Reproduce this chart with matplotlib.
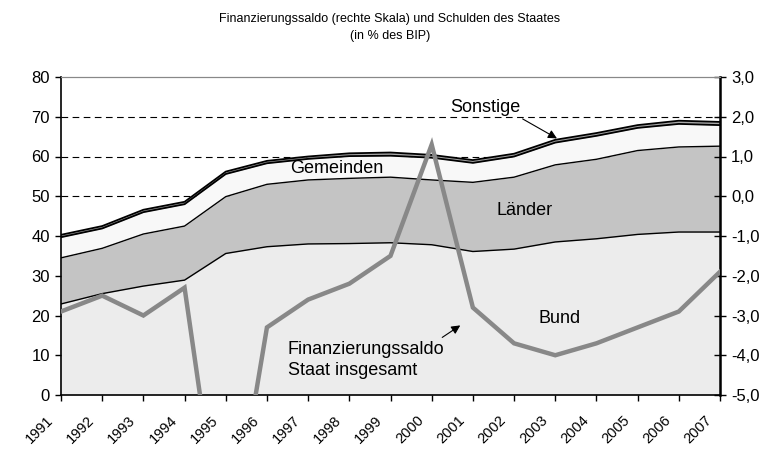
import numpy as np
import matplotlib
matplotlib.use('Agg')
from matplotlib import pyplot as plt
from matplotlib.transforms import ScaledTranslation

plt.rcParams['font.family'] = ['Liberation Sans', 'DejaVu Sans']

# data
years = ['1991', '1992', '1993', '1994', '1995', '1996', '1997', '1998', '1999',
         '2000', '2001', '2002', '2003', '2004', '2005', '2006', '2007']
bund = [22.9, 25.5, 27.4, 28.9, 35.6, 37.3, 38.0, 38.1, 38.3,
        37.8, 36.1, 36.7, 38.5, 39.3, 40.4, 41.0, 41.0]
laender = [11.6, 11.4, 13.1, 13.6, 14.3, 15.7, 16.1, 16.4, 16.5,
           16.3, 17.4, 18.1, 19.4, 20.0, 21.1, 21.4, 21.6]
gemeinden = [5.2, 5.0, 5.5, 5.5, 5.7, 5.3, 5.3, 5.6, 5.4,
             5.6, 4.9, 5.2, 5.6, 5.9, 5.7, 5.8, 5.3]
sonstige = [0.6, 0.6, 0.6, 0.6, 0.6, 0.6, 0.6, 0.7, 0.8,
            0.7, 0.7, 0.7, 0.7, 0.7, 0.7, 0.8, 0.8]
saldo = [-2.9, -2.5, -3.0, -2.3, -9.5, -3.3, -2.6, -2.2, -1.5,
         1.3, -2.8, -3.7, -4.0, -3.7, -3.3, -2.9, -1.9]

x = np.arange(len(years))
s1 = np.array(bund)
s2 = s1 + np.array(laender)
s3 = s2 + np.array(gemeinden)
s4 = s3 + np.array(sonstige)

fig = plt.figure(figsize=(7.67, 4.5), dpi=100)
ax = fig.add_axes([61/767, 55/450, 659/767, 318/450])

for yy in (50, 60, 70):
    ax.axhline(yy, color='black', lw=0.8, ls=(0, (6, 4)), zorder=0)

ax.fill_between(x, 0, s1, color='#ececec', lw=0, zorder=1)
ax.fill_between(x, s1, s2, color='#c4c4c4', lw=0, zorder=1)
ax.fill_between(x, s2, s3, color='#f8f8f8', lw=0, zorder=1)
ax.fill_between(x, s3, s4, color='#a8a8a8', lw=0, zorder=1)
ax.plot(x, s1, color='black', lw=1.0, zorder=2)
ax.plot(x, s2, color='black', lw=1.0, zorder=2)
ax.plot(x, s3, color='black', lw=1.3, zorder=2)
ax.plot(x, s4, color='black', lw=1.3, zorder=2)

ax.set_xlim(0, 16)
ax.set_ylim(0, 80)
ax.set_yticks(range(0, 81, 10))
ax.set_xticks(x)
ax.set_xticklabels(years, rotation=45, ha='right', va='center', rotation_mode='anchor')
ax.tick_params(axis='x', length=4.5, width=1, pad=12, labelsize=10.5)
ax.tick_params(axis='y', length=4.5, width=1, labelsize=12)
shift = ScaledTranslation(-10/100, 0, fig.dpi_scale_trans)
for lbl in ax.get_xticklabels():
    lbl.set_transform(lbl.get_transform() + shift)
ax.spines['top'].set_color('#888888')
ax.spines['left'].set_linewidth(1.2)
ax.spines['bottom'].set_linewidth(1.2)

ax2 = ax.twinx()
ax2.plot(x, saldo, color='#888888', lw=3.2, zorder=3, solid_joinstyle='miter')
ax2.set_ylim(-5, 3)
ax2.set_yticks(range(-5, 4))
ax2.set_yticklabels([('%.1f' % v).replace('.', ',') for v in range(-5, 4)])
ax2.tick_params(axis='y', direction='inout', length=9, width=1, labelsize=12)
ax2.spines['right'].set_linewidth(1.8)
ax2.spines['top'].set_color('#888888')
ax2.spines['left'].set_visible(False)
ax2.spines['bottom'].set_visible(False)

# labels
ax.text(6.7, 57, 'Gemeinden', fontsize=13, ha='center', va='center', zorder=4)
ax.text(11.25, 46.5, 'Länder', fontsize=13, ha='center', va='center', zorder=4)
ax.text(12.1, 19.3, 'Bund', fontsize=13, ha='center', va='center', zorder=4)
ax.text(10.3, 72.3, 'Sonstige', fontsize=13, ha='center', va='center', zorder=4)
ax.annotate('', xy=(12.1, 64.2), xytext=(11.15, 69.8),
            arrowprops=dict(arrowstyle='-|>', color='black', lw=0.8, mutation_scale=13), zorder=4)
ax.text(5.5, 8.9, 'Finanzierungssaldo\nStaat insgesamt', fontsize=13, ha='left', va='center',
        linespacing=1.3, zorder=4)
ax.annotate('', xy=(9.75, 17.9), xytext=(9.2, 14.1),
            arrowprops=dict(arrowstyle='-|>', color='black', lw=0.8, mutation_scale=13), zorder=4)

fig.text(0.508, 0.939, 'Finanzierungssaldo (rechte Skala) und Schulden des Staates\n(in % des BIP)',
         ha='center', va='center', fontsize=9, linespacing=1.5)

fig.savefig('out.png', dpi=100)
